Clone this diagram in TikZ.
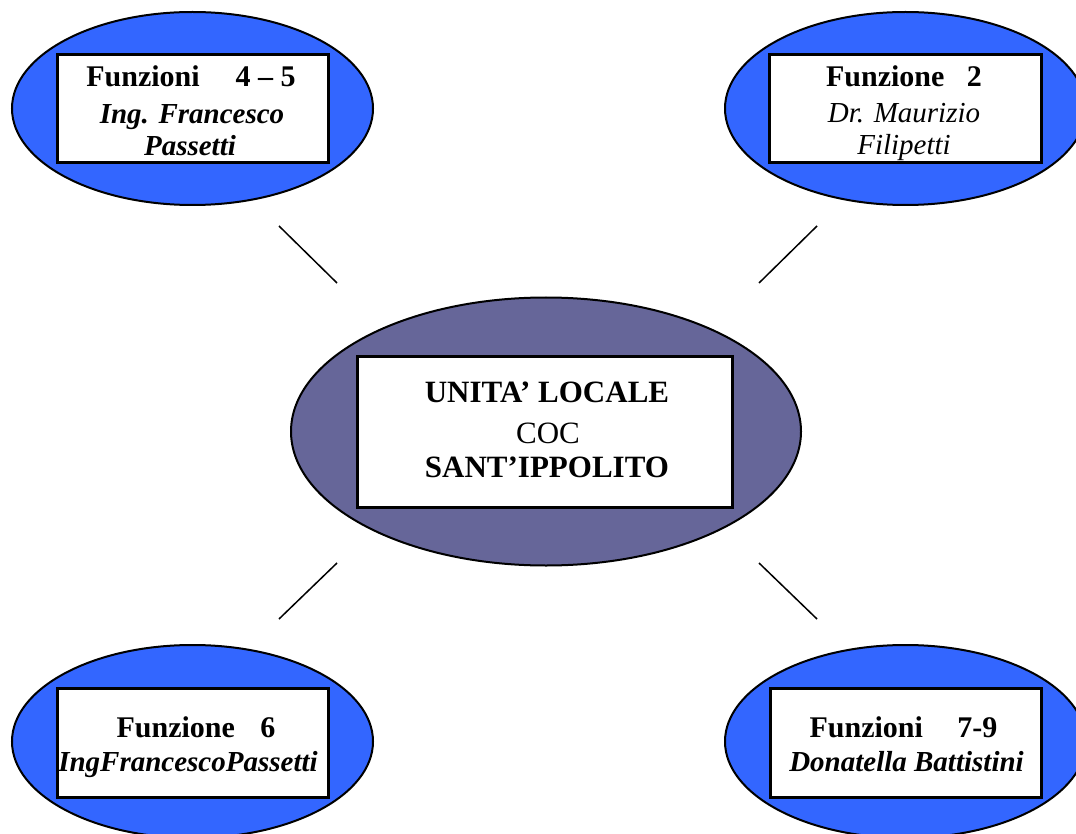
\documentclass[tikz,border=0pt]{standalone}
\usepackage{fontspec}
\setmainfont{Liberation Serif}
\usetikzlibrary{shapes.geometric}
\definecolor{unitblue}{RGB}{51,102,255}
\definecolor{cocviolet}{RGB}{102,102,153}

\begin{document}
\begin{tikzpicture}[x=1pt,y=-1pt,
  unit/.style={ellipse, draw=black, line width=2pt, fill=unitblue,
    inner sep=0pt, minimum width=361pt, minimum height=193pt},
  hub/.style={ellipse, draw=black, line width=2pt, fill=cocviolet,
    inner sep=0pt, minimum width=510pt, minimum height=268pt},
  roleframe/.style={draw=black, line width=3pt, fill=white, inner sep=0pt,
    minimum width=271pt, minimum height=108pt},
  hubframe/.style={draw=black, line width=3pt, fill=white, inner sep=0pt,
    minimum width=375pt, minimum height=151pt},
  txt/.style={anchor=base, inner sep=0pt},
  headline/.style={txt, font=\fontsize{30}{33}\selectfont\bfseries},
  nameline/.style={txt, font=\fontsize{29}{33}\selectfont\bfseries\itshape},
  plainname/.style={txt, font=\fontsize{29}{33}\selectfont\itshape},
  hubline/.style={txt, font=\fontsize{31}{35}\selectfont\bfseries},
  cocline/.style={txt, font=\fontsize{31}{35}\selectfont},
  link/.style={line width=1.5pt},
]
\useasboundingbox (0,0) rectangle (1076,834);
\clip (0,0) rectangle (1076,834);

% outer units
\node[unit] (tl) at (192.5,108.5) {};
\node[unit] (tr) at (905.5,108.5) {};
\node[unit] (bl) at (192.5,741.5) {};
\node[unit] (br) at (905.5,741.5) {};

% central unit
\node[hub] (hub) at (546,431.5) {};

% white frames
\node[roleframe] (tlbox) at (192.5,109) {};
\node[roleframe, minimum width=272pt] (trbox) at (905,109) {};
\node[roleframe, minimum height=109pt] (blbox) at (192.5,742.5) {};
\node[roleframe, minimum height=109pt] (brbox) at (905.5,742.5) {};
\node[hubframe] (hubbox) at (544.5,431.5) {};

% Funzioni 4-5
\node[headline] (tl1) at (191,87) {Funzioni\hspace{1.2em}4 -- 5};
\node[nameline] (tl2) at (192,124) {Ing. Francesco};
\node[nameline] (tl3) at (190,156) {Passetti};

% Funzione 2
\node[headline] (tr1) at (904,87) {Funzione\hspace{0.75em}2};
\node[plainname] (tr2) at (904,123) {Dr. Maurizio};
\node[plainname] (tr3) at (904,155) {Filipetti};

% Funzione 6
\node[headline] (bl1) at (196,737) {Funzione\hspace{0.85em}6};
\node[nameline] (bl2) at (188,771) {IngFrancescoPassetti};

% Funzioni 7-9
\node[headline] (br1) at (903.5,737) {Funzioni\hspace{1.15em}7-9};
\node[nameline] (br2) at (906.5,771) {Donatella Battistini};

% central label
\node[hubline] (hub1) at (547,402) {UNITA’ LOCALE};
\node[cocline] (hub2) at (548,443) {COC};
\node[hubline] (hub3) at (547,477) {SANT’IPPOLITO};

% short connector strokes between the units
\coordinate (tlA) at (279,226);  \coordinate (tlB) at (337,283);
\coordinate (trA) at (817,226);  \coordinate (trB) at (759,283);
\coordinate (blA) at (337,563);  \coordinate (blB) at (279,619);
\coordinate (brA) at (759,563);  \coordinate (brB) at (817,619);
\draw[link] (tlA) -- (tlB);
\draw[link] (trA) -- (trB);
\draw[link] (blA) -- (blB);
\draw[link] (brA) -- (brB);
\end{tikzpicture}
\end{document}
